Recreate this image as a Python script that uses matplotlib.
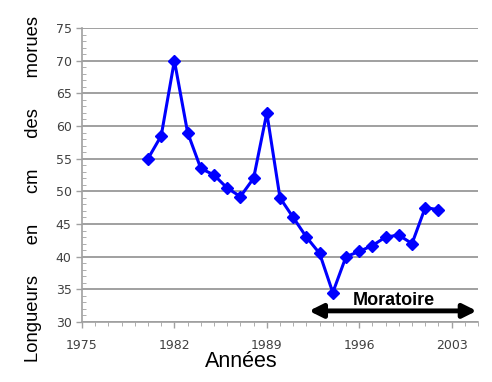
import matplotlib
matplotlib.use("Agg")
import matplotlib.pyplot as plt
from matplotlib.ticker import MultipleLocator

years = list(range(1980, 2003))
lengths = [55, 58.5, 70, 59, 53.5, 52.5, 50.5, 49.2, 52, 62, 49, 46, 43, 40.5,
           34.5, 40, 40.8, 41.7, 43, 43.3, 42, 47.5, 47.2]
xticks = [1975, 1982, 1989, 1996, 2003]
yticks = list(range(30, 80, 5))
moratoire = (1992.2, 2004.9)

fig = plt.figure(figsize=(4.92, 3.82), dpi=100)
ax = fig.add_axes([82/492, 60/382, 396/492, 294/382])

ax.plot(years, lengths, color="#0000ff", lw=2.2, marker="D", ms=6.5, zorder=3)

ax.set_xlim(1975, 2005)
ax.set_ylim(30, 75)
ax.set_xticks(xticks)
ax.set_yticks(yticks)
ax.xaxis.set_minor_locator(MultipleLocator(1))
ax.yaxis.set_minor_locator(MultipleLocator(1))
ax.grid(axis="y", which="major", color="#a0a0a0", lw=1.4)
ax.set_axisbelow(True)
for s in ["top", "right"]:
    ax.spines[s].set_visible(False)
for s in ["left", "bottom"]:
    ax.spines[s].set_color("#a0a0a0")
    ax.spines[s].set_linewidth(1.2)
ax.tick_params(axis="both", which="major", colors="#a0a0a0", labelcolor="#404040",
               labelsize=9, length=4, width=1)
ax.tick_params(axis="y", which="minor", direction="in", colors="#a0a0a0", length=3)
ax.tick_params(axis="x", which="minor", direction="out", colors="#a0a0a0", length=3)
ax.tick_params(axis="x", which="major", pad=8)

ax.annotate("", xy=(moratoire[0], 31.7), xytext=(moratoire[1], 31.7),
            arrowprops=dict(arrowstyle="<|-|>", color="black", lw=3.5,
                            mutation_scale=20, shrinkA=0, shrinkB=0),
            annotation_clip=False)
ax.text(sum(moratoire) / 2 + 0.1, 32.6, "Moratoire", ha="center", va="baseline",
        fontsize=13, fontweight="bold", family="Liberation Sans")

ax.set_xlabel("Années", fontsize=15.5, family="Liberation Sans", va="top")
ax.xaxis.set_label_coords((241 - 82) / 396, -0.1)
ax.set_ylabel("Longueurs      en      cm      des      morues", fontsize=13.2,
              family="Liberation Sans")
ax.yaxis.set_label_coords(-0.101, 0.452)

fig.savefig("out.png", dpi=100)
